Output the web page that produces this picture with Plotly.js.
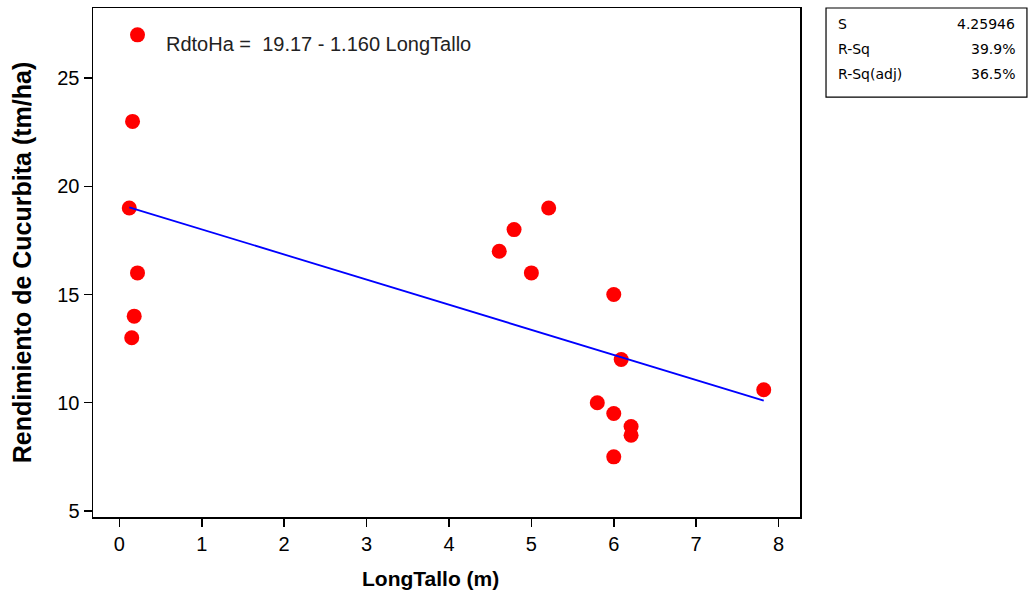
<!DOCTYPE html>
<html>
<head>
<meta charset="utf-8">
<script src="https://cdn.plot.ly/plotly-3.0.1.min.js"></script>
<style>html,body{margin:0;padding:0;background:#fff;}#chart{width:1031px;height:594px;}</style>
</head>
<body>
<div id="chart"></div>
<script>
// Data
const longTallo = [0.22, 0.16, 0.12, 0.22, 0.18, 0.15, 4.61, 4.79, 5.0, 5.21, 6.0, 6.09, 5.8, 6.0, 6.21, 6.21, 6.0, 7.82];
const rdtoHa    = [27.0, 23.0, 19.0, 16.0, 14.0, 13.0, 17.0, 18.0, 16.0, 19.0, 15.0, 12.0, 10.0, 9.5, 8.9, 8.5, 7.5, 10.6];
const intercept = 19.17;
const slope = -1.160;
const statLabels = ["S", "R-Sq", "R-Sq(adj)"];
const statValues = ["4.25946", "39.9%", "36.5%"];
const equationText = "RdtoHa =  19.17 - 1.160 LongTallo";
const xTitle = "LongTallo (m)";
const yTitle = "Rendimiento de Cucurbita (tm/ha)";
const xTicks = [0, 1, 2, 3, 4, 5, 6, 7, 8];
const yTicks = [5, 10, 15, 20, 25];

const xMin = Math.min(...longTallo), xMax = Math.max(...longTallo);
const fitX = [xMin, xMax];
const fitY = fitX.map(x => intercept + slope * x);

const sans = 'Arial, "Liberation Sans", sans-serif';
const statFont = {family: 'Tahoma, "DejaVu Sans", sans-serif', size: 14, color: '#000'};

const traces = [
  {x: longTallo, y: rdtoHa, type: 'scatter', mode: 'markers',
   marker: {color: '#ff0000', size: 15, line: {width: 0}}, hoverinfo: 'x+y'},
  {x: fitX, y: fitY, type: 'scatter', mode: 'lines',
   line: {color: '#0000ff', width: 1.8}}
];

const annotations = [
  {xref: 'paper', yref: 'paper', x: 0.100, y: 0.929, xanchor: 'left', yanchor: 'middle',
   text: equationText, showarrow: false, font: {family: sans, size: 20, color: '#222'}},
  {xref: 'paper', yref: 'paper', x: 0.477, y: -0.12, xanchor: 'center', yanchor: 'middle',
   text: '<b>' + xTitle + '</b>', showarrow: false, font: {family: sans, size: 21, color: '#000'}}
];
const rowY = [0.969, 0.920, 0.871];
statLabels.forEach((lab, i) => {
  annotations.push({xref: 'paper', yref: 'paper', x: 1.051, y: rowY[i], xanchor: 'left', yanchor: 'middle',
    text: lab, showarrow: false, font: statFont});
  annotations.push({xref: 'paper', yref: 'paper', x: 1.307, y: rowY[i], xanchor: 'right', yanchor: 'middle',
    text: statValues[i], showarrow: false, font: statFont});
});

const layout = {
  width: 1031, height: 594,
  margin: {l: 93, r: 231, t: 8, b: 77},
  paper_bgcolor: '#fff', plot_bgcolor: '#fff',
  showlegend: false,
  xaxis: {
    range: [-0.32, 8.26], tickvals: xTicks, ticktext: xTicks.map(String),
    showgrid: false, zeroline: false, showline: true, mirror: true,
    linecolor: '#000', linewidth: 1.5, ticks: 'outside', ticklen: 8, tickwidth: 1.5, tickcolor: '#000',
    tickfont: {family: sans, size: 20, color: '#000'}
  },
  yaxis: {
    range: [4.72, 28.24], tickvals: yTicks, ticktext: yTicks.map(String),
    showgrid: false, zeroline: false, showline: true, mirror: true,
    linecolor: '#000', linewidth: 1.5, ticks: 'outside', ticklen: 8, tickwidth: 1.5, tickcolor: '#000',
    tickfont: {family: sans, size: 20, color: '#000'},
    title: {text: yTitle, font: {family: sans, size: 25, color: '#000', weight: 'bold'}, standoff: 18}
  },
  shapes: [
    {type: 'rect', xref: 'paper', yref: 'paper', x0: 1.0368, x1: 1.321, y0: 0.825, y1: 1.0,
     line: {color: '#000', width: 1.2}, fillcolor: 'rgba(0,0,0,0)'}
  ],
  annotations: annotations
};

Plotly.newPlot('chart', traces, layout, {displayModeBar: false, staticPlot: true});
</script>
</body>
</html>
